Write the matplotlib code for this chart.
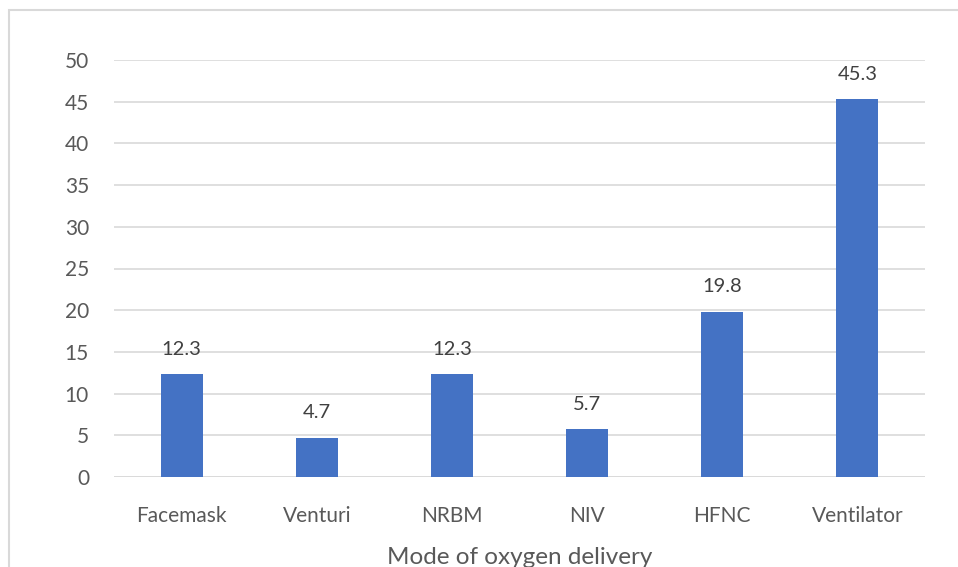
import matplotlib.pyplot as plt
from matplotlib.patches import Rectangle

# oxygen delivery modes and their share (%)
modes = ['Facemask', 'Venturi', 'NRBM', 'NIV', 'HFNC', 'Ventilator']
values = [12.3, 4.7, 12.3, 5.7, 19.8, 45.3]
y_ticks = [0, 5, 10, 15, 20, 25, 30, 35, 40, 45, 50]

plt.rcParams['font.family'] = ['Lato', 'DejaVu Sans']
text_color = '#595959'

fig = plt.figure(figsize=(9.58, 5.67), dpi=100)
ax = fig.add_axes([114 / 958, 1 - 477 / 567, (925 - 114) / 958, (477 - 60) / 567])

x = range(len(modes))
bars = ax.bar(x, values, width=0.31, color='#4472C4', zorder=3)

for xi, v in zip(x, values):
    ax.annotate(f'{v}', (xi, v), xytext=(0, 12), textcoords='offset points',
                ha='center', va='bottom', fontsize=14.5, color='#404040')

ax.set_xlim(-0.5, len(modes) - 0.5)
ax.set_ylim(0, 50)
ax.set_yticks(y_ticks)
ax.set_xticks(list(x))
ax.set_xticklabels(modes)
ax.yaxis.grid(True, color='#d9d9d9', linewidth=1.2, zorder=0)
ax.tick_params(axis='both', length=0, labelsize=15, labelcolor=text_color)
ax.tick_params(axis='y', pad=18)
ax.tick_params(axis='x', pad=21)
for s in ax.spines.values():
    s.set_visible(False)
ax.axhline(0, color='#d9d9d9', linewidth=1.2, zorder=2)

ax.set_xlabel('Mode of oxygen delivery', fontsize=17.5, color=text_color, labelpad=15)

# chart frame
fig.patches.append(Rectangle((9 / 958, -0.1), 1.0, 1 - 10 / 567 + 0.1,
                             transform=fig.transFigure, fill=False,
                             edgecolor='#d9d9d9', linewidth=1.5))

fig.savefig('out.png', dpi=100)
